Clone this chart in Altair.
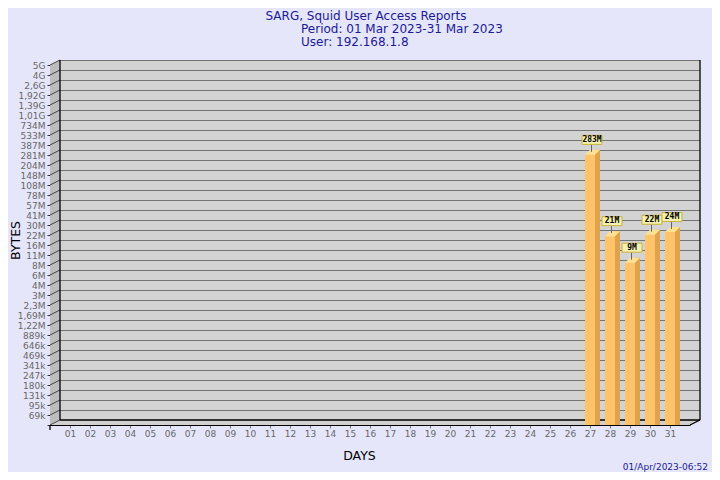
import json
import altair as alt
import pandas as pd

# ---- data ----
days = list(range(1, 32))
bar_days = [27, 28, 29, 30, 31]
bar_mb = [283, 21, 9, 22, 24]
bar_labels = ["283M", "21M", "9M", "22M", "24M"]
y_tick_labels = ["", "69k", "95k", "131k", "180k", "247k", "341k", "469k", "646k", "889k",
                 "1,22M", "1,69M", "2,3M", "3M", "4M", "6M", "8M", "11M", "16M", "22M",
                 "30M", "41M", "57M", "78M", "108M", "148M", "204M", "281M", "387M",
                 "533M", "734M", "1,01G", "1,39G", "1,92G", "2,6G", "4G", "5G"]
title_line = "SARG, Squid User Access Reports"
period_line = "Period: 01 Mar 2023-31 Mar 2023"
user_line = "User: 192.168.1.8"
stamp = "01/Apr/2023-06:52"

# ---- log-level axis geometry (SARG uses evenly spaced log levels) ----
R = 1.37686
Y0 = 69000 / R
NLEV = 36


def lv(k):
    return Y0 * R ** k


HALF = R ** 0.5  # half a level = 5 px of depth
BG = "#E6E6FA"
NAVY = "#1a1a96"

xs = alt.Scale(domain=[0, 32], nice=False, zero=False)
ys = alt.Scale(type="log", domain=[lv(0), lv(NLEV)], nice=False)

xaxis = alt.Axis(values=days, format="02d", title="DAYS", grid=False,
                 domainColor="black", domainWidth=1, tickColor="#777777", tickSize=3,
                 labelColor="#666666", labelFont="DejaVu Sans", labelFontSize=9,
                 labelPadding=1, labelOverlap=False,
                 titleFont="DejaVu Sans", titleFontSize=12.5, titleFontWeight="normal",
                 titleColor="black", titleX=309, titleY=30, titleAlign="center",
                 titleBaseline="middle")

label_expr = f"{json.dumps(y_tick_labels)}[round(log(datum.value/{Y0})/log({R}))]"
yaxis = alt.Axis(values=[lv(k) for k in range(NLEV + 1)], labelExpr=label_expr,
                 title="BYTES", grid=False, domainColor="black", domainWidth=1,
                 tickColor="#333333", tickSize=3, labelColor="#666666",
                 labelFont="DejaVu Sans", labelFontSize=9, labelPadding=2,
                 labelOverlap=False, labelBound=False, labelFlush=False,
                 titleFont="DejaVu Sans", titleFontSize=12.5, titleFontWeight="normal",
                 titleColor="black", titleX=-35, titleY=175, titleAngle=270,
                 titleAlign="center", titleBaseline="middle")


def X(f):
    return alt.X(f"{f}:Q", scale=xs, axis=xaxis)


def Y(f):
    return alt.Y(f"{f}:Q", scale=ys, axis=yaxis)


# ---- tables built from the arrays ----
bars = pd.DataFrame({"day": bar_days,
                     "bytes": [v * 1e6 for v in bar_mb],
                     "label": bar_labels})
bars["base"] = lv(0)

top_rows = []
for d, v in zip(bar_days, bar_mb):
    b = v * 1e6
    top_rows.append({"day": d, "y": b, "xa": d - 0.25, "xb": d + 0.25})
    top_rows.append({"day": d, "y": b * HALF, "xa": d, "xb": d + 0.5})
tops = pd.DataFrame(top_rows)

wall = pd.DataFrame({"x": [0.5], "x2": [32.5], "y": [lv(0.5)], "y2": [lv(NLEV + 0.5)]})
left_wall = pd.DataFrame({"x": [0, 0.5], "y": [lv(NLEV), lv(NLEV + 0.5)],
                          "y2": [lv(0), lv(0.5)]})
floor = pd.DataFrame({"y": [lv(0), lv(0.5)], "x": [0, 0.5], "x2": [32, 32.5]})
grid = pd.DataFrame({"y": [lv(k + 0.5) for k in range(1, NLEV + 1)]})
grid["x"], grid["x2"] = 0.5, 32.5
diag = pd.DataFrame({"y": [lv(k) for k in range(NLEV + 1)],
                     "y2": [lv(k + 0.5) for k in range(NLEV + 1)]})
diag["x"], diag["x2"] = 0.0, 0.5
edges = pd.DataFrame({
    "x":  [0.5, 32.5, 0.5, 32.0, 0.0],
    "x2": [0.5, 32.5, 32.5, 32.5, 0.0],
    "y":  [lv(0.5), lv(0.5), lv(0.5), lv(0), lv(0)],
    "y2": [lv(NLEV + 0.5), lv(NLEV + 0.5), lv(0.5), lv(0.5), lv(-0.5)],
})


def note(text, x, y, size, align, baseline="alphabetic"):
    return alt.Chart(pd.DataFrame({"t": [text]})).mark_text(
        font="DejaVu Sans", fontSize=size, color=NAVY, align=align,
        baseline=baseline).encode(x=alt.value(x), y=alt.value(y), text="t")


layers = [
    alt.Chart(wall).mark_rect(color="#d3d3d3").encode(x=X("x"), x2="x2", y=Y("y"), y2="y2"),
    alt.Chart(left_wall).mark_area(color="#bdbdbd").encode(x=X("x"), y=Y("y"), y2="y2"),
    alt.Chart(floor).mark_area(orient="horizontal", color="#d0d0d0").encode(
        y=Y("y"), x=X("x"), x2="x2"),
    alt.Chart(grid).mark_rule(color="#737373", strokeWidth=1, yOffset=0.5).encode(
        x=X("x"), x2="x2", y=Y("y")),
    alt.Chart(diag).mark_rule(color="#444444", strokeWidth=1).encode(
        x=X("x"), x2="x2", y=Y("y"), y2="y2"),
    alt.Chart(edges).mark_rule(color="black", strokeWidth=1.3).encode(
        x=X("x"), x2="x2", y=Y("y"), y2="y2"),
    # bars: front, side, top
    alt.Chart(bars).mark_rect(color="#FFC46A", xOffset=-5, x2Offset=5).encode(
        x=X("day"), x2="day", y=Y("bytes"), y2="base"),
    alt.Chart(bars).mark_rect(color="#DFA34C", xOffset=5, x2Offset=10, yOffset=-5).encode(
        x=X("day"), x2="day", y=Y("bytes"), y2="base"),
    alt.Chart(tops).mark_area(orient="horizontal", color="#FFE291").encode(
        y=Y("y"), x=X("xa"), x2="xb", detail="day:N"),
    # value labels
    alt.Chart(bars).mark_rule(color="#666666", xOffset=1.5, yOffset=-10.5, y2Offset=-3).encode(
        x=X("day"), y=Y("bytes"), y2="bytes"),
    alt.Chart(bars).mark_rect(fill="#F4F0B0", stroke="#C8B23A", strokeWidth=1,
                              xOffset=-8, x2Offset=12, yOffset=-19.5, y2Offset=-10.5).encode(
        x=X("day"), x2="day", y=Y("bytes"), y2="bytes"),
    alt.Chart(bars).mark_text(font="DejaVu Sans Mono", fontWeight="bold", fontSize=8,
                              color="black", dx=2, dy=-15, baseline="middle",
                              align="center").encode(
        x=X("day"), y=Y("bytes"), text="label"),
    # header and time stamp
    note(title_line, 316, -45, 12, "center"),
    note(period_line, 251, -32, 12, "left"),
    note(user_line, 251, -19, 12, "left"),
    note(stamp, 658, 402, 9, "right", "middle"),
]

chart = alt.layer(*layers).properties(
    width=640, height=360,
    autosize=alt.AutoSizeParams(type="none"),
    padding={"left": 42, "top": 57, "right": 22, "bottom": 47},
).configure(background=BG).configure_view(stroke=None)

chart.save("out.html", embed_options={"renderer": "svg", "actions": False})
